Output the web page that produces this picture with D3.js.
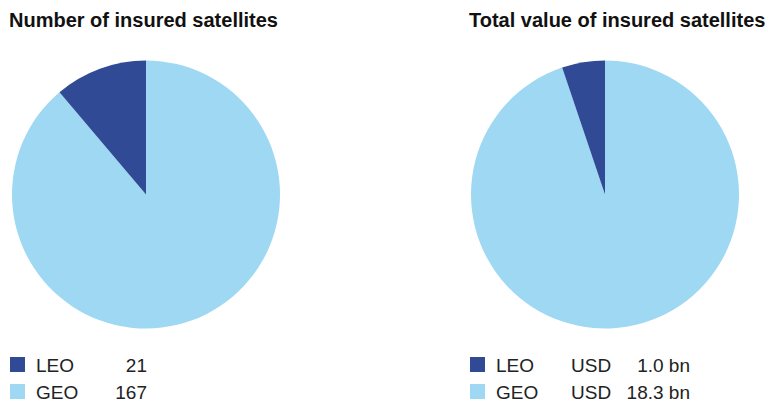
<!DOCTYPE html>
<html><head><meta charset="utf-8">
<script src="https://cdn.jsdelivr.net/npm/d3@7"></script>
<style>body{margin:0;background:#fff;}svg{display:block;}</style>
</head><body>
<svg id="c" width="766" height="409"></svg>
<script>
const categories = ["LEO", "GEO"];
const counts = [21, 167];
const values = [1.0, 18.3];
const titles = ["Number of insured satellites", "Total value of insured satellites"];
const colors = ["#304a96", "#9fd8f3"];

const svg = d3.select("#c");
const color = d3.scaleOrdinal().domain(categories).range(colors);

const panels = [
  {title: titles[0], data: counts, cx: 146, x0: 10, fmt: d => String(d), unit: null, numRight: 147},
  {title: titles[1], data: values, cx: 605, x0: 470, fmt: d => d.toFixed(1) + " bn", unit: "USD", numRight: 690}
];

const r = 134, cy = 194.5;
const pie = d3.pie().sort(null).value(d => d.v).startAngle(0).endAngle(2 * Math.PI);
const arc = d3.arc().innerRadius(0).outerRadius(r);

panels.forEach(p => {
  svg.append("text").attr("x", p.x0 - 1).attr("y", 27)
    .attr("font-family", "Liberation Sans, Arial, sans-serif").attr("font-weight", "bold")
    .attr("font-size", 20).attr("fill", "#111").text(p.title);

  const items = categories.map((c, i) => ({c, v: p.data[i]}));
  const ordered = [items[1], items[0]];
  const g = svg.append("g").attr("transform", `translate(${p.cx},${cy})`);
  g.selectAll("path").data(pie(ordered)).join("path")
    .attr("d", arc).attr("fill", d => color(d.data.c));

  const ly = d3.scaleBand().domain(categories).range([355, 409]).paddingInner(0);
  categories.forEach((c, i) => {
    const y = ly(c);
    svg.append("rect").attr("x", p.x0).attr("y", y + 2).attr("width", 15).attr("height", 15)
      .attr("fill", color(c));
    const base = y + 17;
    const tf = t => t.attr("font-family", "Liberation Sans, Arial, sans-serif")
      .attr("font-size", 19).attr("fill", "#222");
    svg.append("text").attr("x", p.x0 + 26).attr("y", base).call(tf).text(c);
    if (p.unit) svg.append("text").attr("x", 571).attr("y", base).call(tf).text(p.unit);
    svg.append("text").attr("x", p.numRight).attr("y", base).attr("text-anchor", "end")
      .call(tf).text(p.fmt(p.data[i]));
  });
});
</script>
</body></html>
